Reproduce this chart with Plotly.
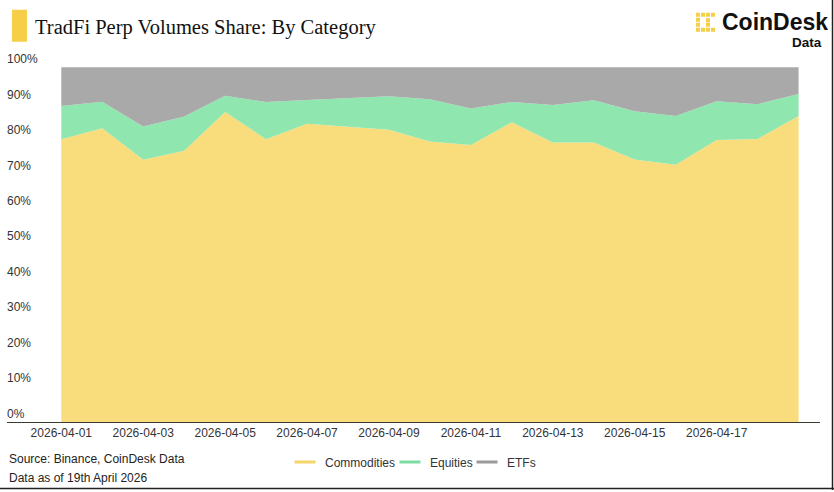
import plotly.graph_objects as go

dates = ["2026-04-01", "2026-04-02", "2026-04-03", "2026-04-04", "2026-04-05",
         "2026-04-06", "2026-04-07", "2026-04-08", "2026-04-09", "2026-04-10",
         "2026-04-11", "2026-04-12", "2026-04-13", "2026-04-14", "2026-04-15",
         "2026-04-16", "2026-04-17", "2026-04-18", "2026-04-19"]
commodities = [79.7, 82.8, 73.9, 76.5, 87.4, 79.7, 84.1, 83.2, 82.4, 79.1,
               78.1, 84.5, 78.8, 78.8, 74.0, 72.5, 79.5, 79.8, 86.3]
equities = [9.4, 7.5, 9.4, 9.6, 4.6, 10.5, 6.7, 8.2, 9.4, 11.9,
            10.3, 5.7, 10.6, 11.9, 13.6, 13.8, 10.9, 9.8, 6.2]
etfs = [10.9, 9.7, 16.7, 13.9, 8.0, 9.8, 9.2, 8.6, 8.2, 9.0,
        11.6, 9.8, 10.6, 9.3, 12.4, 13.7, 9.6, 10.4, 7.5]
x_ticks = ["2026-04-01", "2026-04-03", "2026-04-05", "2026-04-07", "2026-04-09",
           "2026-04-11", "2026-04-13", "2026-04-15", "2026-04-17"]
x_ticktext = ["2026-04-01", "2026-04-03", "2026-04-05", "2026-04-07", "2026-04-09",
              "2026-04-11", "2026-04-13", "2026-04-15", "2026-04-17"]
y_ticks = [0, 10, 20, 30, 40, 50, 60, 70, 80, 90, 100]
y_ticktext = ["0%", "10%", "20%", "30%", "40%", "50%", "60%", "70%", "80%",
              "90%", "100%"]

series = [("Commodities", commodities, "#F9DC7B", "#F5D46A", "legend"),
          ("Equities", equities, "#8FE6AF", "#7DDDA0", "legend2"),
          ("ETFs", etfs, "#A9A9A9", "#9A9A9A", "legend3")]

SANS = "Liberation Sans, Arial, sans-serif"
fig = go.Figure()
for name, vals, fillc, legc, lg in series:
    fig.add_trace(go.Scatter(
        x=dates, y=vals, name=name, mode="lines", stackgroup="one",
        groupnorm="percent", fillcolor=fillc, line=dict(width=0, color=fillc),
        showlegend=False, hoverinfo="x+y+name"))
for name, vals, fillc, legc, lg in series:
    fig.add_trace(go.Scatter(
        x=[None], y=[None], name=name, mode="markers", legend=lg,
        marker=dict(symbol="line-ew", size=15, color=legc,
                    line=dict(width=3, color=legc)),
        showlegend=True))

W, H = 834, 492
Y_TOP = 106  # axis range top (value), keeps the 100% label visible
px_per_unit = (422 - 67.5) / 100.0
L, R, B = 7, 14, 70
T = (H - B) - Y_TOP * px_per_unit
pw = W - L - R
ph = H - T - B

def px_x(p):
    return (p - L) / pw

def px_y(p):
    return (H - B - p) / ph

shapes = [
    dict(type="rect", xref="paper", yref="paper", x0=px_x(12), x1=px_x(27),
         y0=px_y(42), y1=px_y(10), fillcolor="#F5CF48", line=dict(width=0)),
    dict(type="line", xref="paper", yref="paper", x0=px_x(832.5), x1=px_x(832.5),
         y0=px_y(490), y1=px_y(0), line=dict(color="#222", width=1.5)),
    dict(type="line", xref="paper", yref="paper", x0=px_x(0), x1=px_x(834),
         y0=px_y(488.5), y1=px_y(488.5), line=dict(color="#222", width=1.5)),
]
# logo dots
dots = [(696, 13), (701, 13), (706, 13), (711, 13),
        (696, 18), (696, 23), (696, 28),
        (701, 28), (706, 28), (711, 28),
        (706, 18.5), (706, 23)]
for dx, dy in dots:
    shapes.append(dict(type="rect", xref="paper", yref="paper",
                       x0=px_x(dx), x1=px_x(dx + 4), y0=px_y(dy + 4), y1=px_y(dy),
                       fillcolor="#F5CF48", line=dict(width=0)))

annotations = [
    dict(text="<b>CoinDesk</b>", xref="paper", yref="paper", x=px_x(830), y=px_y(22),
         xanchor="right", yanchor="middle", showarrow=False,
         font=dict(family=SANS, size=23, color="#111")),
    dict(text="<b>Data</b>", xref="paper", yref="paper", x=px_x(824), y=px_y(43),
         xanchor="right", yanchor="middle", showarrow=False,
         font=dict(family=SANS, size=13.5, color="#111")),
    dict(text="Source: Binance, CoinDesk Data", xref="paper", yref="paper",
         x=px_x(7), y=px_y(459), xanchor="left", yanchor="middle", showarrow=False,
         font=dict(family=SANS, size=12, color="#222")),
    dict(text="Data as of 19th April 2026", xref="paper", yref="paper",
         x=px_x(7), y=px_y(478), xanchor="left", yanchor="middle", showarrow=False,
         font=dict(family=SANS, size=12, color="#222")),
]

def legend_at(text_px):
    return dict(orientation="h", x=px_x(text_px - 40), y=px_y(462), xanchor="left",
                yanchor="middle", font=dict(family=SANS, size=12, color="#333"),
                bgcolor="rgba(0,0,0,0)")

fig.update_layout(
    width=W, height=H,
    margin=dict(l=L, r=R, t=T, b=B, autoexpand=False),
    paper_bgcolor="white", plot_bgcolor="white",
    title=dict(text="TradFi Perp Volumes Share: By Category", xref="container",
               yref="container", x=35 / W, y=1 - 27 / H, xanchor="left",
               yanchor="middle",
               font=dict(family="Liberation Serif, Times New Roman, serif",
                         size=20.5, color="#111")),
    xaxis=dict(type="date", range=["2026-03-30 16:11", "2026-04-19 12:33"],
               tickmode="array", tickvals=x_ticks, ticktext=x_ticktext,
               showgrid=False, zeroline=False, showline=True,
               linecolor="#3a3a30", linewidth=1, ticks="",
               tickfont=dict(family=SANS, size=12, color="#333")),
    yaxis=dict(range=[0, Y_TOP], tickmode="array", tickvals=y_ticks,
               ticktext=y_ticktext,
               showgrid=False, zeroline=False, showline=False, ticks="",
               ticklabelposition="inside top", ticklabelstandoff=-3,
               tickfont=dict(family=SANS, size=12, color="#333")),
    legend=legend_at(325),
    legend2=legend_at(430),
    legend3=legend_at(507),
    shapes=shapes, annotations=annotations,
)

fig.write_html("out.html", config={"displayModeBar": False},
               post_script="document.body.style.margin='0px';")
